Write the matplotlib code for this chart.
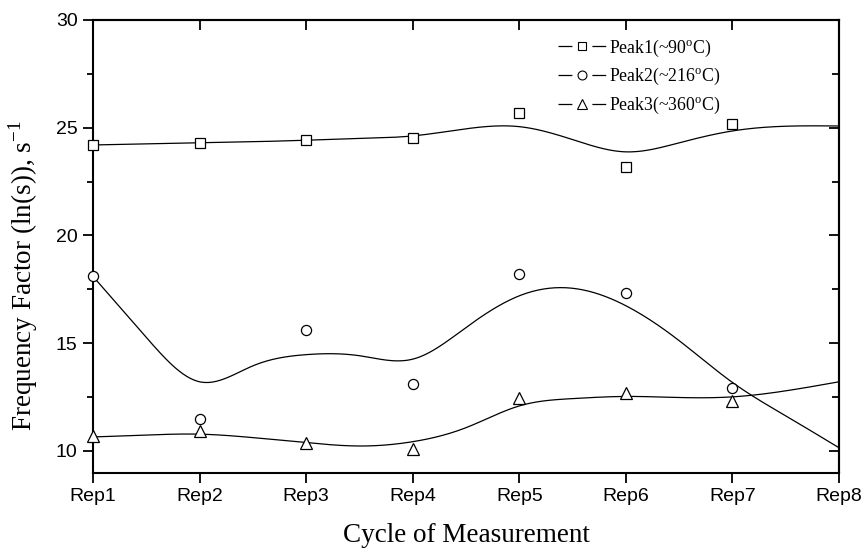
import numpy as np
import matplotlib
matplotlib.use("Agg")
import matplotlib.pyplot as plt
from matplotlib.lines import Line2D

# =========================
# Data
# =========================

rep_labels = ["Rep1", "Rep2", "Rep3", "Rep4", "Rep5", "Rep6", "Rep7", "Rep8"]

# measured points (Rep1..Rep7)
peak1 = [24.22, 24.29, 24.42, 24.54, 25.69, 23.18, 25.19]
peak2 = [18.11, 11.47, 15.63, 13.13, 18.22, 17.33, 12.90]
peak3 = [10.70, 10.93, 10.39, 10.08, 12.48, 12.67, 12.33]

# smoothed fit curves, read at half steps from Rep1 to Rep8
curve_x = [1, 1.5, 2, 2.5, 3, 3.5, 4, 4.5, 5, 5.5, 6, 6.5, 7, 7.5, 8]
curve1 = [24.20, 24.25, 24.30, 24.35, 24.42, 24.50, 24.62, 24.95, 25.05,
          24.45, 23.88, 24.30, 24.85, 25.07, 25.08]
curve2 = [18.10, 15.27, 13.21, 13.95, 14.47, 14.42, 14.26, 15.73, 17.20,
          17.55, 16.74, 15.12, 13.18, 11.63, 10.15]
curve3 = [10.65, 10.74, 10.78, 10.62, 10.39, 10.23, 10.43, 11.08, 12.09,
          12.43, 12.53, 12.48, 12.51, 12.79, 13.21]

labels = ["Peak1(~90$^{\\mathregular{o}}$C)",
          "Peak2(~216$^{\\mathregular{o}}$C)",
          "Peak3(~360$^{\\mathregular{o}}$C)"]


# =========================
# Natural cubic spline (numpy only)
# =========================

def spline(xs, ys, num=400):
  xs = np.asarray(xs, float)
  ys = np.asarray(ys, float)
  n = len(xs)
  h = np.diff(xs)
  A = np.zeros((n, n))
  b = np.zeros(n)
  A[0, 0] = 1
  A[-1, -1] = 1
  for i in range(1, n - 1):
    A[i, i - 1] = h[i - 1]
    A[i, i] = 2 * (h[i - 1] + h[i])
    A[i, i + 1] = h[i]
    b[i] = 3 * ((ys[i + 1] - ys[i]) / h[i] - (ys[i] - ys[i - 1]) / h[i - 1])
  c = np.linalg.solve(A, b)
  xf = np.linspace(xs[0], xs[-1], num)
  idx = np.clip(np.searchsorted(xs, xf) - 1, 0, n - 2)
  dx = xf - xs[idx]
  hi = h[idx]
  bb = (ys[idx + 1] - ys[idx]) / hi - hi * (2 * c[idx] + c[idx + 1]) / 3
  dd = (c[idx + 1] - c[idx]) / (3 * hi)
  yf = ys[idx] + bb * dx + c[idx] * dx ** 2 + dd * dx ** 3
  return xf, yf


# =========================
# Plot
# =========================

plt.rcParams["font.family"] = ["Liberation Serif", "DejaVu Serif"]
plt.rcParams["mathtext.fontset"] = "custom"
plt.rcParams["mathtext.rm"] = "Liberation Serif"

fig = plt.figure(figsize=(8.66, 5.52), dpi=100)
ax = fig.add_axes([0.1074, 0.144, 0.8614, 0.8198])

x_pts = np.arange(1, len(peak1) + 1)

for pts, curve, marker, ms in [
    (peak1, curve1, "s", 7),
    (peak2, curve2, "o", 7.3),
    (peak3, curve3, "^", 8.5),
]:
  xf, yf = spline(curve_x, curve)
  ax.plot(xf, yf, color="black", linewidth=0.9)
  ax.plot(x_pts, pts, linestyle="none", marker=marker, markersize=ms,
          markerfacecolor="white", markeredgecolor="black",
          markeredgewidth=0.9, clip_on=False, zorder=3)

ax.set_xlim(1, 8)
ax.set_ylim(9, 30)
ax.set_xticks(range(1, 9))
ax.set_xticklabels(rep_labels, family="Liberation Sans", fontsize=14)
ax.set_yticks([10, 15, 20, 25, 30])
ax.set_yticks([12.5, 17.5, 22.5, 27.5], minor=True)
for t in ax.get_yticklabels():
  t.set_family("Liberation Sans")
  t.set_fontsize(14)

ax.tick_params(axis="both", which="major", direction="out", length=7, width=1.3, pad=4)
ax.tick_params(axis="y", which="minor", direction="out", length=4.5, width=1.3)

# mirror ticks on top and right, pointing inward
top = ax.secondary_xaxis("top")
top.set_xticks(range(1, 9))
top.tick_params(direction="in", length=7, width=1.3, labeltop=False)
right = ax.secondary_yaxis("right")
right.set_yticks([10, 15, 20, 25, 30])
right.set_yticks([12.5, 17.5, 22.5, 27.5], minor=True)
right.tick_params(which="major", direction="in", length=7, width=1.3, labelright=False)
right.tick_params(which="minor", direction="in", length=5, width=1.3)

for s in ax.spines.values():
  s.set_linewidth(1.5)
top.spines["top"].set_linewidth(1.5)
right.spines["right"].set_linewidth(1.5)

ax.set_xlabel("Cycle of Measurement", fontsize=19.5)
ax.set_ylabel("Frequency Factor (ln(s)), s$^{\\mathregular{-1}}$", fontsize=19.5)
ax.xaxis.set_label_coords(0.5, -0.112)
ax.yaxis.set_label_coords(-0.071, 0.436)

# legend handles: short line, gap, marker, gap, short line
handle_style = dict(color="black", linewidth=0.9, dashes=[11.1, 16.0],
                    markerfacecolor="white", markeredgewidth=0.8)
handles = [
    Line2D([], [], marker="s", markersize=6.2, **handle_style),
    Line2D([], [], marker="o", markersize=6.4, **handle_style),
    Line2D([], [], marker="^", markersize=7.4, **handle_style),
]
ax.legend(handles, labels, loc="upper left", bbox_to_anchor=(0.623, 0.961),
          frameon=False, fontsize=12.8, handlelength=2.7, handletextpad=0.2,
          labelspacing=0.42, borderpad=0, borderaxespad=0)

fig.savefig("out.png", dpi=100)
